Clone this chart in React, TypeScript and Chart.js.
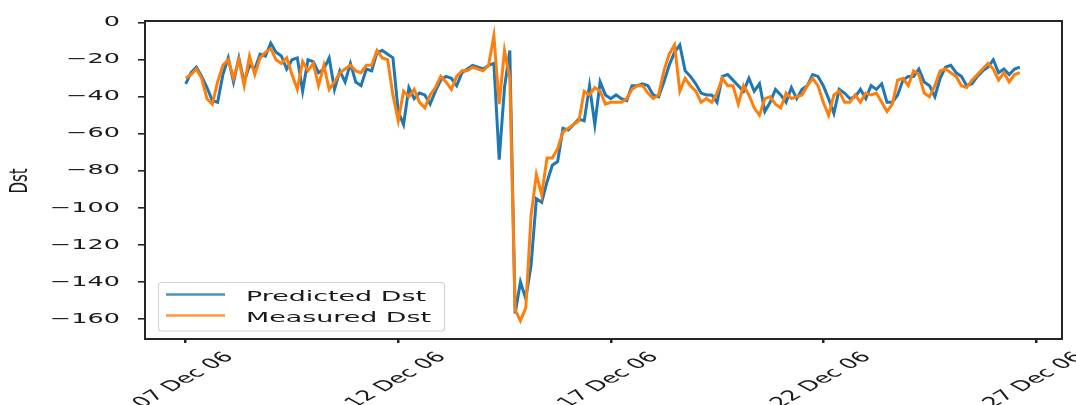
import React, { useEffect, useRef } from 'react';
import { Chart, registerables } from 'chart.js';

Chart.register(...registerables);

// ---- data (3-hourly samples starting 07 Dec 06 00:00) ----
const STEP_HOURS = 3;

const predictedDst = [
  -33, -27, -24, -29, -35, -42, -43, -28, -19, -32,
  -19, -32, -23, -25, -17, -18, -11, -16, -18, -25,
  -20, -19, -37, -20, -21, -27, -25, -19, -36, -26,
  -32, -22, -32, -34, -25, -26, -16, -15, -17, -19,
  -48, -55, -35, -41, -38, -39, -44, -37, -31, -29,
  -30, -34, -27, -25, -23, -24, -25, -23, -22, -74,
  -35, -15, -157, -140, -149, -131, -95, -97, -86, -77,
  -75, -57, -58, -55, -52, -53, -34, -55, -32, -39,
  -41, -39, -41, -42, -34, -34, -33, -34, -39, -40,
  -32, -23, -16, -12, -26, -29, -33, -38, -39, -39,
  -43, -29, -28, -31, -34, -37, -30, -37, -33, -48,
  -43, -36, -39, -43, -35, -41, -36, -34, -28, -29,
  -34, -41, -49, -36, -38, -41, -40, -36, -41, -34,
  -36, -33, -43, -43, -39, -31, -29, -29, -25, -32,
  -34, -40, -30, -24, -23, -27, -29, -34, -33, -29,
  -26, -24, -20, -27, -25, -28, -25, -24,
];

const measuredDst = [
  -30, -28, -25, -30, -41, -44, -32, -23, -20, -30,
  -20, -34, -18, -28, -19, -16, -14, -20, -22, -19,
  -28, -36, -21, -26, -22, -34, -23, -36, -32, -27,
  -25, -23, -26, -27, -23, -23, -15, -19, -20, -39,
  -53, -37, -40, -36, -43, -46, -39, -35, -29, -32,
  -36, -29, -26, -26, -24, -25, -26, -23, -7, -44,
  -15, -30, -155, -161, -154, -104, -82, -93, -73, -73,
  -68, -59, -57, -55, -53, -37, -39, -35, -37, -44,
  -43, -43, -43, -41, -36, -34, -34, -38, -41, -39,
  -26, -17, -12, -37, -30, -34, -37, -43, -41, -43,
  -38, -30, -34, -34, -44, -34, -39, -46, -50, -41,
  -40, -44, -46, -38, -41, -40, -39, -34, -30, -34,
  -43, -50, -39, -37, -43, -43, -39, -43, -38, -39,
  -38, -43, -48, -44, -31, -30, -34, -26, -28, -38,
  -40, -34, -26, -25, -27, -29, -34, -35, -31, -28,
  -25, -22, -25, -31, -27, -32, -28, -27,
];

const seriesNames = ['Predicted Dst', 'Measured Dst'];
const xTickHours = [0, 120, 240, 360, 480];
const xTickLabels = ['07 Dec 06', '12 Dec 06', '17 Dec 06', '22 Dec 06', '27 Dec 06'];
const yTickValues = [0, -20, -40, -60, -80, -100, -120, -140, -160];
const yAxisTitle = 'Dst';

const BLUE = '#1f77b4';
const ORANGE = '#ff7f0e';
const SX = 1.82;
const FONT = '14px "DejaVu Sans"';
const TEXT = '#1a1a1a';

function drawStretched(ctx: CanvasRenderingContext2D, text: string, x: number, y: number, sx: number, rot: number, align: CanvasTextAlign, baseline: CanvasTextBaseline) {
  ctx.save();
  ctx.translate(x, y);
  ctx.scale(sx, 1);
  ctx.rotate(rot);
  ctx.textAlign = align;
  ctx.textBaseline = baseline;
  ctx.fillText(text, 0, 0);
  ctx.restore();
}

const decorPlugin = {
  id: 'decor',
  afterDatasetsDraw(chart: any) {
    const ctx: CanvasRenderingContext2D = chart.ctx;
    const a = chart.chartArea;

    // frame
    ctx.save();
    ctx.strokeStyle = '#262626';
    ctx.lineWidth = 2;
    ctx.strokeRect(a.left, a.top, a.right - a.left, a.bottom - a.top);
    ctx.restore();

    // legend
    ctx.save();
    const lx = 158.5, ly = 282.5, lw = 286, lh = 48.5, r = 3;
    ctx.beginPath();
    ctx.moveTo(lx + r, ly);
    ctx.lineTo(lx + lw - r, ly);
    ctx.quadraticCurveTo(lx + lw, ly, lx + lw, ly + r);
    ctx.lineTo(lx + lw, ly + lh - r);
    ctx.quadraticCurveTo(lx + lw, ly + lh, lx + lw - r, ly + lh);
    ctx.lineTo(lx + r, ly + lh);
    ctx.quadraticCurveTo(lx, ly + lh, lx, ly + lh - r);
    ctx.lineTo(lx, ly + r);
    ctx.quadraticCurveTo(lx, ly, lx + r, ly);
    ctx.closePath();
    ctx.fillStyle = 'rgba(255,255,255,0.85)';
    ctx.fill();
    ctx.strokeStyle = '#d4d4d4';
    ctx.lineWidth = 1.2;
    ctx.stroke();
    const rows = [
      { name: seriesNames[0], color: BLUE, y: 294.5 },
      { name: seriesNames[1], color: ORANGE, y: 315.5 },
    ];
    ctx.font = FONT;
    ctx.fillStyle = TEXT;
    rows.forEach((row) => {
      ctx.strokeStyle = row.color;
      ctx.globalAlpha = 0.8;
      ctx.lineWidth = 2.5;
      ctx.beginPath();
      ctx.moveTo(166, row.y);
      ctx.lineTo(225, row.y);
      ctx.stroke();
      ctx.globalAlpha = 1;
      drawStretched(ctx, row.name, 246, row.y + 6, 1.92, 0, 'left', 'alphabetic');
    });
    ctx.restore();
  },
  afterDraw(chart: any) {
    const ctx: CanvasRenderingContext2D = chart.ctx;
    const xs = chart.scales.x;
    const ys = chart.scales.y;
    ctx.save();
    ctx.font = FONT;
    ctx.fillStyle = TEXT;
    // y tick labels
    yTickValues.forEach((v) => {
      const y = ys.getPixelForValue(v);
      const label = v < 0 ? '\u2212' + Math.abs(v) : String(v);
      drawStretched(ctx, label, 120, y, SX, 0, 'right', 'middle');
    });
    // x tick labels, rotated 45deg and centred on tick
    xTickHours.forEach((h, i) => {
      const x = xs.getPixelForValue(h);
      const label = xTickLabels[i];
      const w = ctx.measureText(label).width;
      const half = ((w + 14) * Math.SQRT1_2) / 2;
      drawStretched(ctx, label, x - 2, 350 + half, SX, -Math.PI / 4, 'center', 'middle');
    });
    // y axis title, rotated
    ctx.font = '15px "DejaVu Sans"';
    drawStretched(ctx, yAxisTitle, 21, 181, 1.6, -Math.PI / 2, 'center', 'middle');
    ctx.restore();
  },
};

export default function App() {
  const ref = useRef<HTMLCanvasElement | null>(null);

  useEffect(() => {
    document.body.style.margin = '0';
    const canvas = ref.current;
    if (!canvas) return;
    const toPoints = (arr: number[]) => arr.map((v, i) => ({ x: i * STEP_HOURS, y: v }));
    const chart = new Chart(canvas, {
      type: 'line',
      data: {
        datasets: [
          {
            label: seriesNames[0],
            data: toPoints(predictedDst),
            borderColor: BLUE,
            backgroundColor: BLUE,
            borderWidth: 3,
            pointRadius: 0,
            tension: 0,
            order: 2,
          },
          {
            label: seriesNames[1],
            data: toPoints(measuredDst),
            borderColor: ORANGE,
            backgroundColor: ORANGE,
            borderWidth: 3,
            pointRadius: 0,
            tension: 0,
            order: 1,
          },
        ],
      },
      options: {
        animation: false,
        responsive: false,
        devicePixelRatio: 1,
        layout: { padding: { left: 0, right: 14, top: 21, bottom: 0 } },
        plugins: { legend: { display: false }, tooltip: { enabled: false } },
        scales: {
          x: {
            type: 'linear',
            min: -23,
            max: 494.8,
            afterBuildTicks: (scale: any) => {
              scale.ticks = xTickHours.map((v) => ({ value: v }));
            },
            afterFit: (scale: any) => {
              scale.height = 66;
            },
            ticks: { display: false },
            border: { display: false },
            grid: {
              display: true,
              drawOnChartArea: false,
              drawTicks: true,
              tickLength: 4,
              color: '#262626',
              lineWidth: 2.5,
            },
          },
          y: {
            type: 'linear',
            min: -170.8,
            max: 0.92,
            afterBuildTicks: (scale: any) => {
              scale.ticks = yTickValues.map((v) => ({ value: v }));
            },
            afterFit: (scale: any) => {
              scale.width = 145;
            },
            ticks: { display: false },
            border: { display: false },
            grid: {
              display: true,
              drawOnChartArea: false,
              drawTicks: true,
              tickLength: 7,
              color: '#262626',
              lineWidth: 1.6,
            },
          },
        },
      },
      plugins: [decorPlugin],
    } as any);
    return () => chart.destroy();
  }, []);

  return (
    <div style={{ position: 'absolute', left: 0, top: 0, width: 1076, height: 405, background: '#fff' }}>
      <canvas ref={ref} width={1076} height={405} style={{ width: 1076, height: 405, display: 'block' }} />
    </div>
  );
}
